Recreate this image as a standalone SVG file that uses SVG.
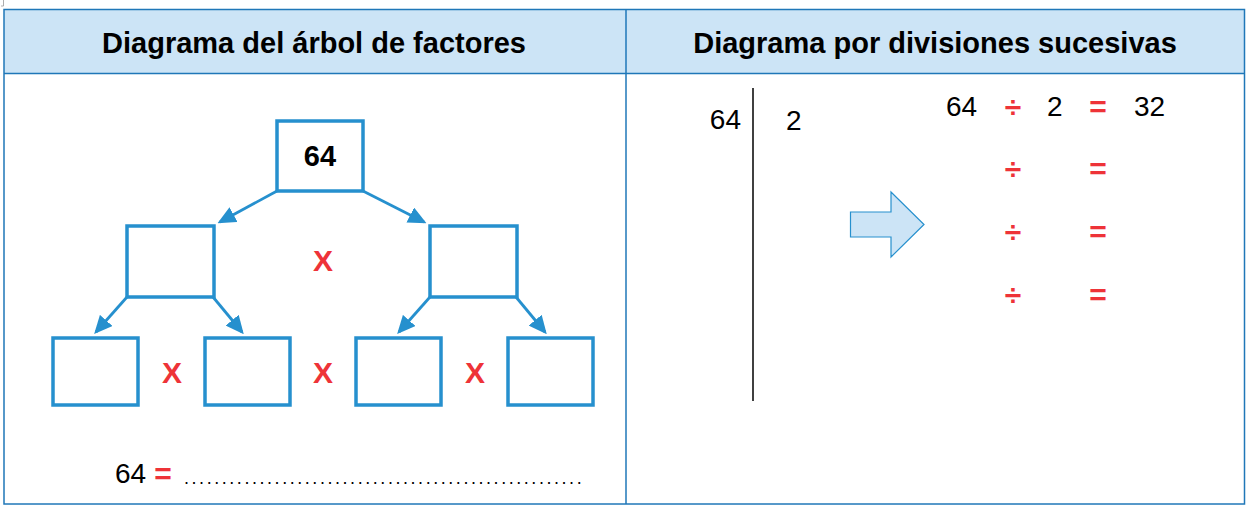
<svg xmlns="http://www.w3.org/2000/svg" width="1250" height="506" viewBox="0 0 1250 506">
<style>
.hdr{font-family:"Liberation Sans",Arial,sans-serif;font-weight:bold;font-size:29px;fill:#000;text-anchor:middle}
.num{font-family:"Liberation Sans",Arial,sans-serif;font-size:28px;fill:#000}
.red{font-family:"Liberation Sans",Arial,sans-serif;font-weight:bold;font-size:30px;fill:#EE3338;text-anchor:middle}
.box{fill:#fff;stroke:#2690CE;stroke-width:3.5}
.conn{stroke:#2690CE;stroke-width:2.8;fill:none;marker-end:url(#ah)}
.tbl{stroke:#1F77B8;stroke-width:1.5;fill:none}
</style>
<defs>
<marker id="ah" markerWidth="6.5" markerHeight="6" refX="5.5" refY="3" orient="auto" markerUnits="strokeWidth">
<path d="M0,0 L6.5,3 L0,6 z" fill="#2690CE"/>
</marker>
</defs>
<path d="M1,6 L3.5,6 L3.5,0" stroke="#999" stroke-width="0.8" fill="none"/>
<g id="table">
<rect x="4" y="9.5" width="1240.5" height="64" fill="#CCE4F6"/>
<rect x="4" y="9.5" width="1240.5" height="494.5" class="tbl"/>
<line x1="4" y1="73.5" x2="1244.5" y2="73.5" class="tbl"/>
<line x1="626" y1="9.5" x2="626" y2="504" class="tbl"/>
<text class="hdr" x="314" y="53">Diagrama del árbol de factores</text>
<text class="hdr" x="935" y="53">Diagrama por divisiones sucesivas</text>
</g>
<g id="connectors">
<line class="conn" x1="277" y1="191" x2="220" y2="222"/>
<line class="conn" x1="363" y1="191" x2="424" y2="222"/>
<line class="conn" x1="127" y1="297" x2="96" y2="332"/>
<line class="conn" x1="213" y1="297" x2="242" y2="332"/>
<line class="conn" x1="430" y1="297" x2="399" y2="332"/>
<line class="conn" x1="516" y1="297" x2="545" y2="332"/>
</g>
<g id="n64">
<rect class="box" x="277" y="121" width="86" height="70"/>
<text x="320" y="166" font-family="Liberation Sans,Arial,sans-serif" font-weight="bold" font-size="29" text-anchor="middle">64</text>
</g>
<g id="nL"><rect class="box" x="127" y="226" width="87" height="71"/></g>
<g id="nR"><rect class="box" x="430" y="226" width="87" height="71"/></g>
<g id="nLL"><rect class="box" x="53" y="338" width="85" height="67"/></g>
<g id="nLR"><rect class="box" x="205" y="338" width="85" height="67"/></g>
<g id="nRL"><rect class="box" x="356" y="338" width="85" height="67"/></g>
<g id="nRR"><rect class="box" x="508" y="338" width="85" height="67"/></g>
<g id="times">
<text class="red" x="323" y="271">X</text>
<text class="red" x="172" y="383">X</text>
<text class="red" x="323" y="383">X</text>
<text class="red" x="475" y="383">X</text>
</g>
<g id="result">
<text class="num" x="115" y="483" font-size="27">64</text>
<text class="red" x="163" y="484">=</text>
<text x="184" y="484" font-family="Liberation Sans,Arial,sans-serif" font-size="18" fill="#000" letter-spacing="2.55">.....................................................</text>
</g>
<g id="division">
<line x1="753" y1="88" x2="753" y2="401" stroke="#000" stroke-width="1.5"/>
<text class="num" x="741" y="129" text-anchor="end">64</text>
<text class="num" x="786" y="130">2</text>
</g>
<g id="bigarrow">
<path d="M850.5,212 L891,212 L891,192 L924,224.5 L891,257 L891,237 L850.5,237 Z" fill="#CCE4F6" stroke="#2690CE" stroke-width="1.2"/>
</g>
<g id="equations">
<text class="num" x="946" y="116">64</text>
<text class="num" x="1047" y="116">2</text>
<text class="num" x="1134" y="116">32</text>
<text class="red" x="1013" y="117">÷</text>
<text class="red" x="1098" y="117">=</text>
<text class="red" x="1013" y="179">÷</text>
<text class="red" x="1098" y="179">=</text>
<text class="red" x="1013" y="242">÷</text>
<text class="red" x="1098" y="242">=</text>
<text class="red" x="1013" y="305">÷</text>
<text class="red" x="1098" y="305">=</text>
</g>
</svg>
